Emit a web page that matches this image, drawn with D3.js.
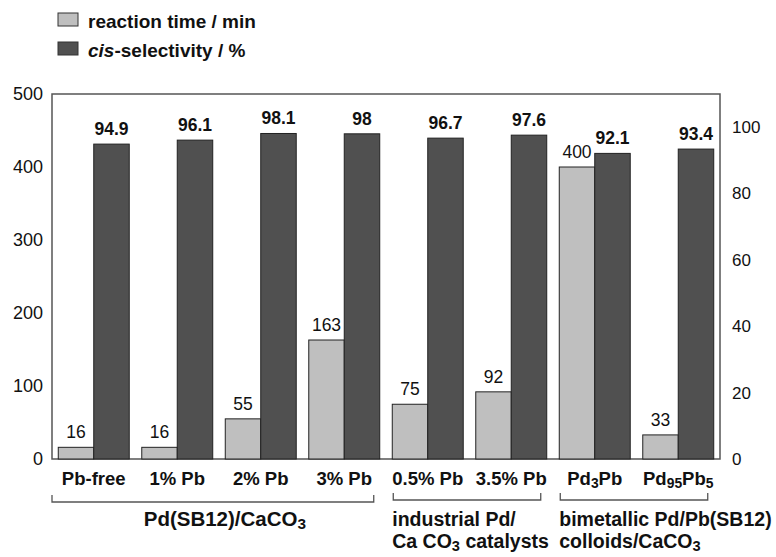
<!DOCTYPE html>
<html>
<head>
  <meta charset="utf-8">
  <title>Reaction time and cis-selectivity</title>
  <script src="https://cdnjs.cloudflare.com/ajax/libs/d3/7.8.5/d3.min.js"></script>
  <style>
    html, body { margin: 0; padding: 0; background: #fff; }
    svg { display: block; font-family: "Liberation Sans", Arial, Helvetica, sans-serif; }
  </style>
</head>
<body>
  <svg id="chart" width="776" height="557"></svg>
  <script>
    // categories: [main text, subscript, text, subscript]
    const categories = ['Pb-free', '1% Pb', '2% Pb', '3% Pb', '0.5% Pb', '3.5% Pb', 'Pd3Pb', 'Pd95Pb5']
    const catParts = [
      [['Pb-free']], [['1% Pb']], [['2% Pb']], [['3% Pb']], [['0.5% Pb']], [['3.5% Pb']],
      [['Pd'], ['3', 'sub'], ['Pb']],
      [['Pd'], ['95', 'sub'], ['Pb'], ['5', 'sub']]
    ]
    const reactionTime = [16, 16, 55, 163, 75, 92, 400, 33]
    const cisSelectivity = [94.9, 96.1, 98.1, 98, 96.7, 97.6, 92.1, 93.4]
    const leftTicks = [0, 100, 200, 300, 400, 500]
    const rightTicks = [0, 20, 40, 60, 80, 100]
    const groups = [
      { from: 0, to: 3, lines: [[['Pd(SB12)/CaCO'], ['3', 'sub']]], anchor: 'middle' },
      { from: 4, to: 5, lines: [[['industrial Pd/']], [['Ca CO'], ['3', 'sub'], [' catalysts']]], anchor: 'start' },
      { from: 6, to: 7, lines: [[['bimetallic Pd/Pb(SB12)']], [['colloids/CaCO'], ['3', 'sub']]], anchor: 'start' }
    ]

    const svg = d3.select('#chart')
    const pLeft = 52, pRight = 720, pTop = 94, pBottom = 459
    const light = '#bfbfbf', dark = '#505050'

    const x0 = d3.scaleBand().domain(categories).range([pLeft, pRight])
      .paddingInner(0.15).paddingOuter(0.075)
    const x1 = d3.scaleBand().domain(['time', 'cis']).range([0, x0.bandwidth()])
    const yL = d3.scaleLinear().domain([0, 500]).range([pBottom, pTop])
    const yR = d3.scaleLinear().domain([0, 110]).range([pBottom, pTop])

    // rich text helper for subscripts
    const richText = (sel, parts) => {
      parts.forEach((p, k) => {
        const t = sel.append('tspan').text(p[0])
        if (p[1] === 'sub') t.attr('font-size', '0.75em').attr('dy', '0.2em')
        else if (k > 0 && parts[k - 1][1] === 'sub') t.attr('dy', '-0.15em')
      })
    }

    // frame
    svg.append('rect')
      .attr('x', pLeft).attr('y', pTop)
      .attr('width', pRight - pLeft).attr('height', pBottom - pTop)
      .attr('fill', 'none').attr('stroke', '#555').attr('stroke-width', 1.5)

    // left axis
    const axL = svg.append('g').attr('transform', `translate(${pLeft - 9},0)`)
      .call(d3.axisLeft(yL).tickValues(leftTicks).tickSize(0).tickPadding(0))
    axL.select('.domain').remove()
    axL.selectAll('text').attr('font-size', 18).attr('fill', '#111')
      .attr('font-family', '"Liberation Sans", Arial, sans-serif')

    // right axis
    const axR = svg.append('g').attr('transform', `translate(${pRight + 12},0)`)
      .call(d3.axisRight(yR).tickValues(rightTicks).tickSize(0).tickPadding(0))
    axR.select('.domain').remove()
    axR.selectAll('text').attr('font-size', 17).attr('fill', '#111')
      .attr('font-family', '"Liberation Sans", Arial, sans-serif')

    // bars
    const g = svg.selectAll('.pair').data(categories).join('g')
      .attr('class', 'pair')
      .attr('transform', d => `translate(${x0(d)},0)`)

    g.append('rect')
      .attr('x', x1('time')).attr('width', x1.bandwidth())
      .attr('y', (d, i) => yL(reactionTime[i]))
      .attr('height', (d, i) => pBottom - yL(reactionTime[i]))
      .attr('fill', light).attr('stroke', '#222').attr('stroke-width', 1)

    g.append('rect')
      .attr('x', x1('cis')).attr('width', x1.bandwidth())
      .attr('y', (d, i) => yR(cisSelectivity[i]))
      .attr('height', (d, i) => pBottom - yR(cisSelectivity[i]))
      .attr('fill', dark).attr('stroke', '#222').attr('stroke-width', 1)

    g.append('text')
      .attr('x', x1('time') + x1.bandwidth() / 2)
      .attr('y', (d, i) => yL(reactionTime[i]) - 9)
      .attr('text-anchor', 'middle').attr('font-size', 17.5).attr('fill', '#111')
      .text((d, i) => reactionTime[i])

    g.append('text')
      .attr('x', x1('cis') + x1.bandwidth() / 2)
      .attr('y', (d, i) => yR(cisSelectivity[i]) - 9)
      .attr('text-anchor', 'middle').attr('font-size', 17.5).attr('font-weight', 'bold').attr('fill', '#111')
      .text((d, i) => cisSelectivity[i])

    // category labels
    g.append('text')
      .attr('x', x0.bandwidth() / 2).attr('y', 485)
      .attr('text-anchor', 'middle').attr('font-size', 18.5).attr('font-weight', 'bold').attr('fill', '#111')
      .each(function (d, i) { richText(d3.select(this), catParts[i]) })

    // group brackets and labels
    groups.forEach((grp, gi) => {
      const a = gi === 0 ? pLeft : x0(categories[grp.from]) + 1
      const b = x0(categories[grp.to]) + x0.bandwidth() - 6
      const yb = gi === 0 ? 502 : 500
      svg.append('path')
        .attr('d', `M${a},${yb - 7}V${yb}H${b}V${yb - 7}`)
        .attr('fill', 'none').attr('stroke', '#555').attr('stroke-width', 1.3)
      grp.lines.forEach((line, li) => {
        const t = svg.append('text')
          .attr('x', grp.anchor === 'middle' ? (a + b) / 2 + 12 : a - 1)
          .attr('y', 526 + li * 22)
          .attr('text-anchor', grp.anchor)
          .attr('font-size', gi === 0 ? 20.5 : 19.5).attr('font-weight', 'bold').attr('fill', '#111')
        richText(t, line)
      })
    })

    // legend
    const legend = [
      { color: light, y: 13, parts: [['reaction time / min']] },
      { color: dark, y: 42, parts: [['cis', 'it'], ['-selectivity / %']] }
    ]
    legend.forEach(l => {
      svg.append('rect').attr('x', 58).attr('y', l.y).attr('width', 20).attr('height', 13)
        .attr('fill', l.color).attr('stroke', '#333').attr('stroke-width', 1)
      const t = svg.append('text').attr('x', 88).attr('y', l.y + 15)
        .attr('font-size', 19).attr('font-weight', 'bold').attr('fill', '#111')
      l.parts.forEach(p => {
        const s = t.append('tspan').text(p[0])
        if (p[1] === 'it') s.attr('font-style', 'italic')
      })
    })
  </script>
</body>
</html>
